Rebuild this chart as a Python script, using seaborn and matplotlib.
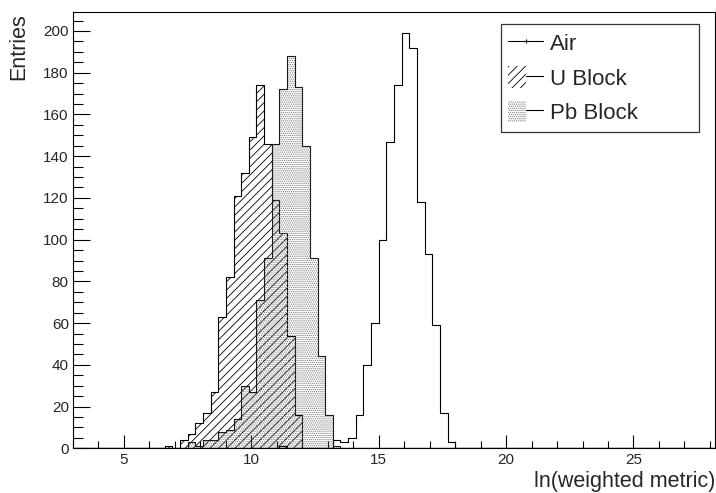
import numpy as np
import pandas as pd
import matplotlib
matplotlib.use("Agg")
import matplotlib.pyplot as plt
from matplotlib.lines import Line2D
from matplotlib.patches import Patch
from matplotlib.legend_handler import HandlerTuple
from matplotlib.ticker import MultipleLocator
import seaborn as sns

# Histogram binning (0.3-wide bins over the displayed range)
BIN_WIDTH = 0.3
X_MIN, X_MAX = 3.0, 28.2

# Entries per bin, listed from the first filled bin of each sample
air_start = 11.1
air_counts = [1, 0, 0, 0, 0, 0, 0, 4, 3, 5, 16, 40, 60, 100, 147, 174, 199,
              192, 118, 93, 59, 17, 3]

u_start = 6.6
u_counts = [1, 0, 4, 7, 12, 17, 27, 63, 82, 121, 132, 149, 174, 146, 119,
            103, 54, 16]

pb_start = 7.5
pb_counts = [3, 1, 4, 4, 8, 9, 14, 30, 27, 71, 91, 146, 172, 188, 173, 145,
             91, 44, 16, 1]

labels = ["Air", "U Block", "Pb Block"]
x_title = "ln(weighted metric)"
y_title = "Entries"

n_bins = int(round((X_MAX - X_MIN) / BIN_WIDTH))
edges = [round(X_MIN + BIN_WIDTH * i, 6) for i in range(n_bins + 1)]
centers = [0.5 * (a + b) for a, b in zip(edges[:-1], edges[1:])]


def sample_frame(start, counts):
    grid = np.zeros(n_bins)
    i0 = int(round((start - X_MIN) / BIN_WIDTH))
    grid[i0:i0 + len(counts)] = counts
    return pd.DataFrame({"value": centers, "entries": grid})


air = sample_frame(air_start, air_counts)
u_block = sample_frame(u_start, u_counts)
pb_block = sample_frame(pb_start, pb_counts)

sns.set_style("ticks")
plt.rcParams["font.family"] = ["Liberation Sans", "DejaVu Sans"]
plt.rcParams["hatch.linewidth"] = 0.6
plt.rcParams["axes.linewidth"] = 0.8

fig = plt.figure(figsize=(7.16, 4.93), dpi=100)
ax = fig.add_axes([73 / 716, 1 - 448.3 / 493, 642 / 716, 436 / 493])

LW = 0.8
DOT = "#7a7a7a"
common = dict(x="value", weights="entries", bins=edges, element="step", ax=ax)

# Air: plain outline
sns.histplot(data=air, fill=False, color="black", linewidth=LW, **common)
# U block: diagonal hatching with its outline
sns.histplot(data=u_block, fill=True, color="black", facecolor="none",
             edgecolor="black", hatch="////", linewidth=LW, **common)
# Pb block: fine stipple, then its outline on top
sns.histplot(data=pb_block, fill=True, color=DOT, facecolor="none",
             edgecolor=DOT, hatch="........", linewidth=0, **common)
sns.histplot(data=pb_block, fill=False, color="#1a1a1a", linewidth=LW,
             **common)

ax.set_xlim(X_MIN, X_MAX)
ax.set_ylim(0, 199 * 1.05)
ax.set_xlabel("")
ax.set_ylabel("")

ax.xaxis.set_major_locator(MultipleLocator(5))
ax.xaxis.set_minor_locator(MultipleLocator(1))
ax.yaxis.set_major_locator(MultipleLocator(20))
ax.yaxis.set_minor_locator(MultipleLocator(5))
ax.tick_params(axis="both", which="both", direction="in", top=False,
               right=False, color="black", width=0.8, labelsize=11)
ax.tick_params(axis="x", which="major", length=9.4, pad=3.5)
ax.tick_params(axis="x", which="minor", length=4.7)
ax.tick_params(axis="y", which="major", length=12, pad=3)
ax.tick_params(axis="y", which="minor", length=7)
for side in ["top", "right", "left", "bottom"]:
    ax.spines[side].set_visible(True)
    ax.spines[side].set_color("black")

fig.text(715 / 716, 1 - 487.5 / 493, x_title, ha="right", va="baseline",
         fontsize=15.5)
fig.text(19 / 716, 1 - 13 / 493, y_title, ha="center", va="top",
         rotation=90, fontsize=15.5)

handles = [
    Line2D([], [], color="black", lw=LW, marker="|", markersize=3, mew=0.8),
    (Patch(facecolor="none", edgecolor="black", hatch="////", lw=0),
     Line2D([], [], color="black", lw=LW)),
    (Patch(facecolor="none", edgecolor=DOT, hatch="........", lw=0),
     Line2D([], [], color="black", lw=LW)),
]
leg = ax.legend(handles, labels, loc="upper left",
                bbox_to_anchor=(500.7 / 716, 1 - 24.3 / 493, 198.6 / 716, 0),
                bbox_transform=fig.transFigure, mode="expand",
                borderaxespad=0, fontsize=16, handlelength=1.55,
                handleheight=1.1, handletextpad=0.3, borderpad=0.35,
                labelspacing=0.5, fancybox=False, framealpha=1,
                edgecolor="#333333",
                handler_map={tuple: HandlerTuple(ndivide=None, pad=0)})
leg.get_frame().set_linewidth(0.9)

fig.savefig("out.png", dpi=100)
